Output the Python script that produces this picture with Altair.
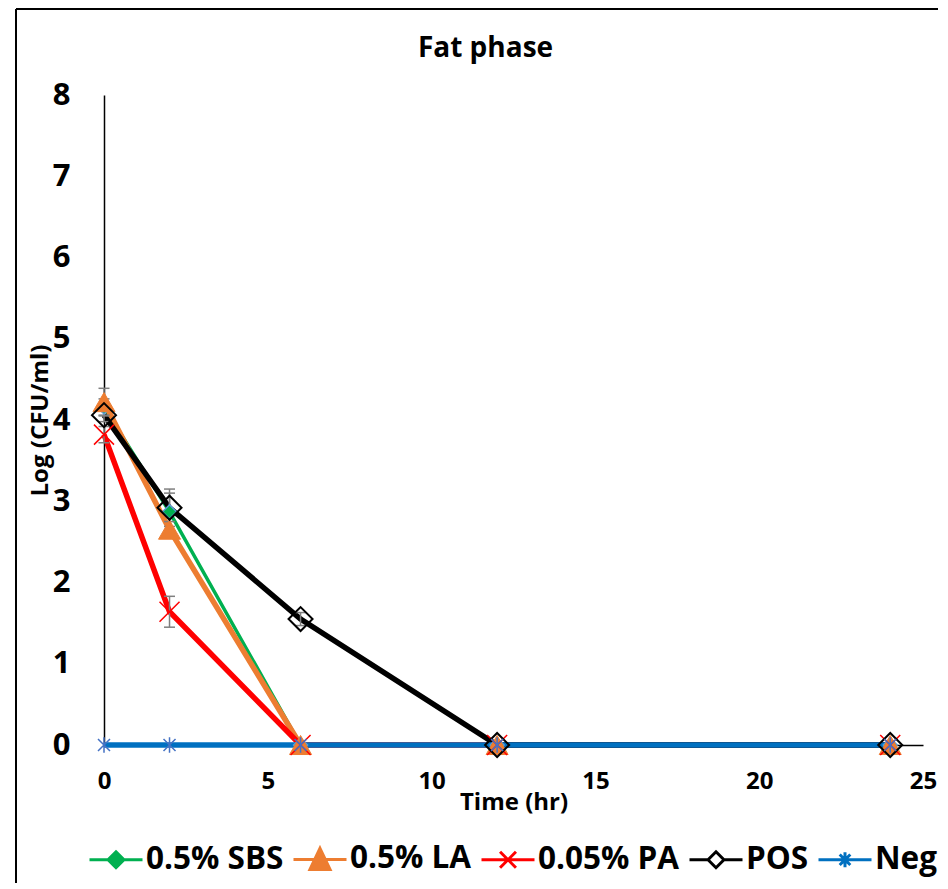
import altair as alt
import pandas as pd

# ---------------- data ----------------
time_hr = [0, 2, 6, 12, 24]
series_names = ["0.5% SBS", "0.5% LA", "0.05% PA", "POS", "Neg"]

sbs = [4.16, 2.87, 0, 0, 0]
la = [4.22, 2.65, 0, 0, 0]
pa = [3.82, 1.64, 0, 0, 0]
pos = [4.06, 2.92, 1.55, 0, 0]
neg = [0, 0, 0, 0, 0]

sbs_err = [0.10, 0.23, 0, 0, 0]
la_err = [0.17, 0.10, 0, 0, 0]
pa_err = [0.10, 0.19, 0, 0, 0]
pos_err = [0.08, 0.23, 0.08, 0, 0]
neg_err = [0, 0, 0, 0, 0]

x_ticks = [0, 5, 10, 15, 20, 25]
y_ticks = [0, 1, 2, 3, 4, 5, 6, 7, 8]

values = [sbs, la, pa, pos, neg]
errors = [sbs_err, la_err, pa_err, pos_err, neg_err]

rows = []
for name, vals, errs in zip(series_names, values, errors):
    for t, v, e in zip(time_hr, vals, errs):
        rows.append({"series": name, "time": t, "value": v, "err": e,
                     "lo": v - e, "hi": v + e})
df = pd.DataFrame(rows)

FONT = "Open Sans"

# ---------------- styles ----------------
X_PATH = "M-1,-1L1,1M-1,1L1,-1"
AST_PATH = "M-1,-1L1,1M-1,1L1,-1M0,-1.3L0,1.3"

styles = {
    "0.5% SBS": dict(line="#00B050", lw=3.5, shape="diamond", size=196,
                     filled=True, fill="#00B050", stroke="#5B9BD5", sw=1.5),
    "0.5% LA": dict(line="#ED7D31", lw=5.5, shape="triangle-up", size=484,
                    filled=True, fill="#ED7D31", stroke="#ED7D31", sw=1),
    "0.05% PA": dict(line="#FF0000", lw=5.5, shape=X_PATH, size=400,
                     filled=False, fill=None, stroke="#FF0000", sw=1.5),
    "POS": dict(line="#000000", lw=5.5, shape="diamond", size=576,
                filled=False, fill=None, stroke="#000000", sw=2),
    "Neg": dict(line="#0070C0", lw=5.5, shape=AST_PATH, size=144,
                filled=False, fill=None, stroke="#4472C4", sw=1.5),
}

x_enc = alt.X("time:Q",
              scale=alt.Scale(domain=[0, 25], nice=False, zero=False),
              axis=alt.Axis(values=x_ticks, title="Time (hr)", format="d",
                            labelFlush=False,
                            labelPadding=24, labelFontSize=24, titleFontSize=24,
                            titleBaseline="middle", titleY=57))
y_enc = alt.Y("value:Q",
              scale=alt.Scale(domain=[0, 8], nice=False),
              axis=alt.Axis(values=y_ticks, title="Log (CFU/ml)", format="d",
                            labelFlush=False,
                            labelPadding=34, labelFontSize=31, titleFontSize=24,
                            titleX=-64, titleY=325, titleAngle=-90,
                            titleAlign="center", titleBaseline="middle"))

base = alt.Chart(df)

line_layers = []
point_layers = []
for name in series_names:
    st = styles[name]
    sub = base.transform_filter(alt.datum.series == name)
    line_layers.append(
        sub.mark_line(color=st["line"], strokeWidth=st["lw"]).encode(
            x=x_enc, y=y_enc, order="time:Q"))
    mk = dict(shape=st["shape"], size=st["size"], filled=st["filled"],
              stroke=st["stroke"], strokeWidth=st["sw"], opacity=1)
    if st["fill"] is not None:
        mk["fill"] = st["fill"]
    point_layers.append(sub.mark_point(**mk).encode(x=x_enc, y=y_enc))

err_df = base.transform_filter(alt.datum.err > 0)
err_rule = err_df.mark_rule(color="#7F7F7F", strokeWidth=1.5).encode(
    x=x_enc, y=alt.Y("lo:Q"), y2="hi:Q")
err_cap_lo = err_df.mark_tick(color="#7F7F7F", orient="horizontal", size=11,
                              thickness=1.5, opacity=1).encode(
    x=x_enc, y=alt.Y("lo:Q"))
err_cap_hi = err_df.mark_tick(color="#7F7F7F", orient="horizontal", size=11,
                              thickness=1.5, opacity=1).encode(
    x=x_enc, y=alt.Y("hi:Q"))

# ---------------- legend (line + marker symbols) ----------------
leg_shapes = [
    "M-1,0H-0.3M0.3,0H1M0,-0.3L0.3,0L0,0.3L-0.3,0Z",
    "M-1,0H1M0,-0.42L0.38,0.38L-0.38,0.38Z",
    "M-1,0H1M-0.3,-0.3L0.3,0.3M-0.3,0.3L0.3,-0.3",
    "M-1,0H-0.3M0.3,0H1M0,-0.3L0.3,0L0,0.3L-0.3,0Z",
    "M-1,0H1M-0.2,-0.2L0.2,0.2M-0.2,0.2L0.2,-0.2M0,-0.28V0.28",
]
leg_strokes = ["#00B050", "#ED7D31", "#FF0000", "#000000", "#0070C0"]
leg_fills = ["#00B050", "#ED7D31", "transparent", "#FFFFFF", "transparent"]

leg = alt.Legend(orient="none", legendX=-16, legendY=736, direction="horizontal",
                 title=None, labelFont=FONT, labelFontSize=31.5,
                 labelFontWeight="bold", labelColor="black", labelLimit=0,
                 symbolSize=2809, symbolStrokeWidth=3, symbolOpacity=1,
                 labelOffset=2, columnPadding=3)
leg_df = pd.DataFrame({"Legend": series_names})
legend_layer = alt.Chart(leg_df).mark_point(opacity=0).encode(
    x=alt.value(0), y=alt.value(0),
    stroke=alt.Stroke("Legend:N", scale=alt.Scale(domain=series_names, range=leg_strokes),
                      legend=leg, sort=series_names),
    fill=alt.Fill("Legend:N", scale=alt.Scale(domain=series_names, range=leg_fills),
                  legend=leg, sort=series_names),
    shape=alt.Shape("Legend:N", scale=alt.Scale(domain=series_names, range=leg_shapes),
                    legend=leg, sort=series_names),
)

# ---------------- frame border of the original picture ----------------
frame_df = pd.DataFrame({"k": [0]})
frame_left = alt.Chart(frame_df).mark_rule(color="black", strokeWidth=2).encode(
    x=alt.value(-88), y=alt.value(-86), y2=alt.value(800))
frame_top = alt.Chart(frame_df).mark_rule(color="black", strokeWidth=2).encode(
    x=alt.value(-88), x2=alt.value(840), y=alt.value(-86))

chart = alt.layer(
    *line_layers, err_rule, err_cap_lo, err_cap_hi, *point_layers,
    legend_layer, frame_left, frame_top
).properties(
    width=819, height=650,
    background="white",
    autosize=alt.AutoSizeParams(type="none"),
    padding={"left": 96, "top": 87, "right": 15, "bottom": 138},
    title=alt.Title("Fat phase", font=FONT, fontSize=28, fontWeight="bold",
                    color="black", anchor="middle", dx=-28, frame="group",
                    baseline="alphabetic", offset=0, dy=77),
).configure_view(stroke=None).configure_axis(
    grid=False, ticks=False, domainColor="black", domainWidth=1.5,
    labelFont=FONT, labelFontWeight="bold", labelColor="black",
    titleFont=FONT, titleFontWeight="bold", titleColor="black",
)

chart.save("out.html", embed_options={"renderer": "svg", "actions": False})
